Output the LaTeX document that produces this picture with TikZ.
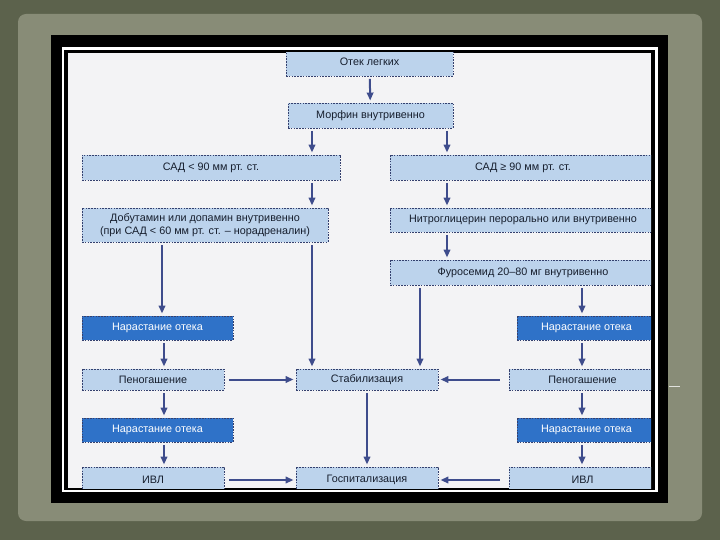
\documentclass[tikz,border=0pt]{standalone}
\usepackage{fontspec}
\setmainfont{Liberation Sans}
\usepackage{xcolor}
\usetikzlibrary{positioning, arrows.meta}

\definecolor{slidedark}{RGB}{92,98,76}
\definecolor{slidepanel}{RGB}{136,140,119}
\definecolor{paper}{RGB}{243,243,245}
\definecolor{boxlight}{RGB}{188,211,236}
\definecolor{boxdark}{RGB}{47,114,200}
\definecolor{boxline}{RGB}{52,64,110}
\definecolor{arrowblue}{RGB}{62,76,140}
\definecolor{inktext}{RGB}{22,30,45}

\begin{document}
\begin{tikzpicture}[
    x=1pt, y=-1pt,
    step box/.style={rectangle, draw=boxline, fill=boxlight, line width=0.9pt,
        dash pattern=on 1.6pt off 1.2pt, inner sep=0pt, align=center,
        text=inktext, font=\fontsize{10.8}{13}\selectfont},
    alarm box/.style={step box, fill=boxdark, text=white},
    arrow/.style={-{Triangle[length=8pt,width=6.5pt]}, line width=2pt, arrowblue,
        shorten <=2.5pt, shorten >=2pt}
]
\useasboundingbox (0,0) rectangle (720,540);

% slide background and frame
\fill[slidedark] (0,0) rectangle (720,540);
\fill[slidepanel, rounded corners=8pt] (18,14) rectangle (702,521);
\fill[black] (51,35) rectangle (668,503);
\draw[white, line width=2.5pt] (63,48.5) rectangle (656.5,491);
\fill[paper] (68,53) rectangle (651,488);
\draw[white!75!slidepanel, line width=1pt] (669,386.5) -- (680,386.5);

\begin{scope}
\clip (68,53) rectangle (651,488);

% columns for the vertical arrows
\coordinate (colA) at (162,0);
\coordinate (colB) at (312,0);
\coordinate (colC) at (420,0);
\coordinate (colD) at (447,0);
\coordinate (colL) at (164,0);
\coordinate (colR) at (582,0);

\node[step box, minimum width=167pt, minimum height=28pt] (edema) at (369.5,62) {Отек легких};
\node[step box, minimum width=165pt, minimum height=25pt] (morphine) at (370.5,115.5) {Морфин внутривенно};
\node[step box, minimum width=258pt, minimum height=25pt] (lowbp) at (211,167.5) {САД < 90 мм рт. ст.};
\node[step box, minimum width=266pt, minimum height=25pt] (highbp) at (523,167.5) {САД ≥ 90 мм рт. ст.};
\node[step box, minimum width=246pt, minimum height=34pt] (dobut) at (205,225) {Добутамин или допамин внутривенно\\(при САД < 60 мм рт. ст. – норадреналин)};
\node[step box, minimum width=266pt, minimum height=24pt] (nitro) at (523,220) {Нитроглицерин перорально или внутривенно};
\node[step box, minimum width=266pt, minimum height=25pt] (furos) at (523,272.5) {Фуросемид 20–80 мг внутривенно};

\node[alarm box, minimum width=151pt, minimum height=24pt] (riseL1) at (157.5,328) {Нарастание отека};
\node[step box, minimum width=142pt, minimum height=21pt] (foamL) at (153,379.5) {Пеногашение};
\node[alarm box, minimum width=151pt, minimum height=24pt] (riseL2) at (157.5,430) {Нарастание отека};
\node[step box, minimum width=142pt, minimum height=26pt] (ivlL) at (153,480) {ИВЛ};

\node[step box, minimum width=142pt, minimum height=21pt] (stab) at (367,379.5) {Стабилизация};
\node[step box, minimum width=142pt, minimum height=26pt] (hosp) at (367,480) {Госпитализация};

\node[alarm box, minimum width=139pt, minimum height=24pt] (riseR1) at (586.5,328) {Нарастание отека};
\node[step box, minimum width=147pt, minimum height=21pt] (foamR) at (582.5,379.5) {Пеногашение};
\node[alarm box, minimum width=139pt, minimum height=24pt] (riseR2) at (586.5,430) {Нарастание отека};
\node[step box, minimum width=147pt, minimum height=26pt] (ivlR) at (582.5,480) {ИВЛ};

% arrows
\draw[arrow] (edema) -- (morphine);
\draw[arrow] (morphine.south -| colB) -- (lowbp.north -| colB);
\draw[arrow] (morphine.south -| colD) -- (highbp.north -| colD);
\draw[arrow] (lowbp.south -| colB) -- (dobut.north -| colB);
\draw[arrow] (highbp.south -| colD) -- (nitro.north -| colD);
\draw[arrow] (nitro.south -| colD) -- (furos.north -| colD);
\draw[arrow] (dobut.south -| colA) -- (riseL1.north -| colA);
\draw[arrow] (dobut.south -| colB) -- (stab.north -| colB);
\draw[arrow] (furos.south -| colC) -- (stab.north -| colC);
\draw[arrow] (furos.south -| colR) -- (riseR1.north -| colR);
\draw[arrow] (riseL1.south -| colL) -- (foamL.north -| colL);
\draw[arrow] (foamL.south -| colL) -- (riseL2.north -| colL);
\draw[arrow] (riseL2.south -| colL) -- (ivlL.north -| colL);
\draw[arrow] (riseR1.south -| colR) -- (foamR.north -| colR);
\draw[arrow] (foamR.south -| colR) -- (riseR2.north -| colR);
\draw[arrow] (riseR2.south -| colR) -- (ivlR.north -| colR);
\draw[arrow, shorten <=5pt] (foamL) -- (stab);
\draw[arrow, shorten <=9pt] (foamR) -- (stab);
\draw[arrow, shorten <=5pt] (ivlL) -- (hosp);
\draw[arrow, shorten <=9pt] (ivlR) -- (hosp);
\draw[arrow] (stab) -- (hosp);
\end{scope}
\end{tikzpicture}
\end{document}
